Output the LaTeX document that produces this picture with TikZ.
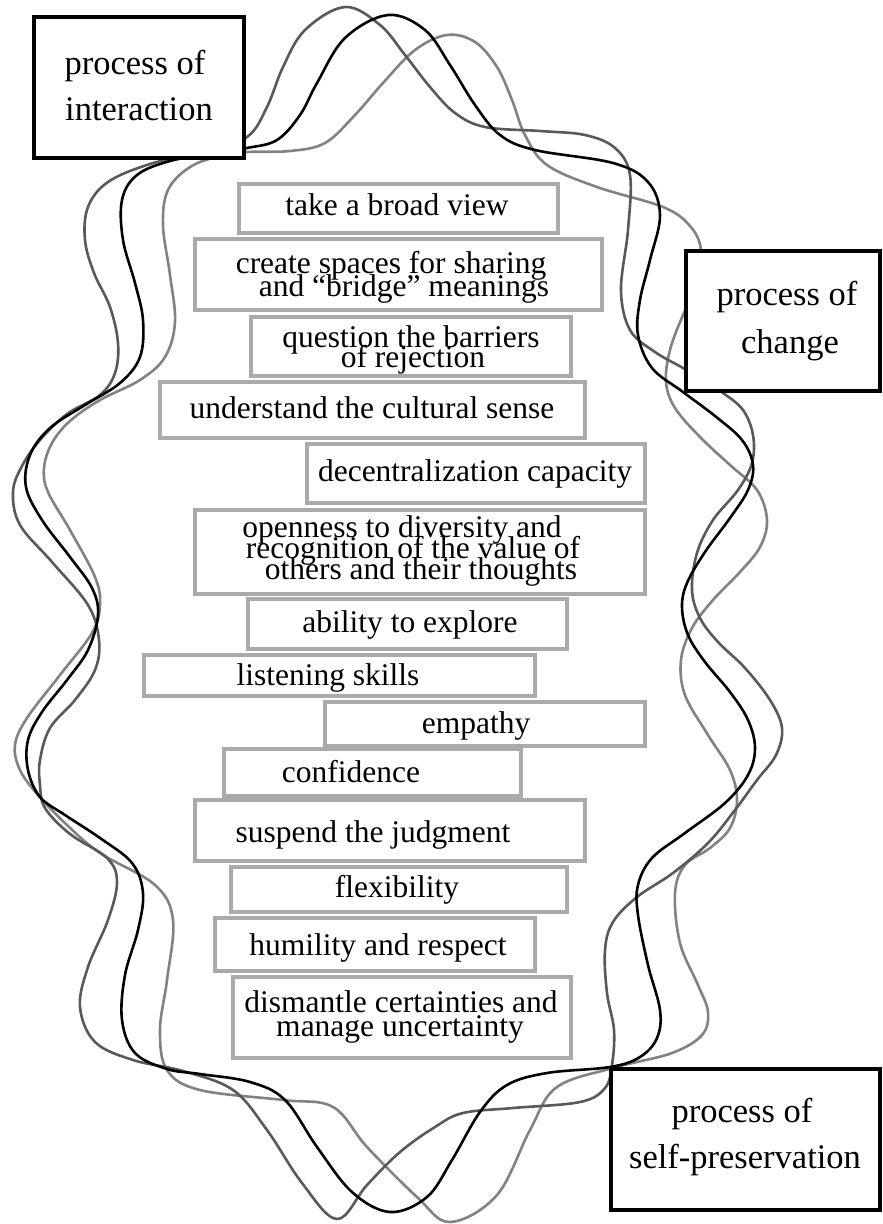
\documentclass[tikz,border=0pt]{standalone}
\usepackage{fontspec}
\setmainfont{Liberation Serif}
\definecolor{boxgray}{HTML}{AAAAAA}
\definecolor{darkcurve}{HTML}{595959}
\definecolor{lightcurve}{HTML}{828282}
\begin{document}
\begin{tikzpicture}[x=1pt,y=-1pt,
  wave/.style={line width=2.6pt},
  gbox/.style={draw=boxgray,line width=4pt,fill=white,inner sep=0pt},
  kbox/.style={draw=black,line width=4.2pt,fill=white,inner sep=0pt},
  gtext/.style={anchor=base,inner sep=0pt,font=\fontsize{31.5}{31.5}\selectfont},
  ktext/.style={anchor=base,inner sep=0pt,font=\fontsize{34.5}{34.5}\selectfont}]
\useasboundingbox (0,0) rectangle (883,1224);

% light grey wave
\draw[wave,lightcurve] plot[smooth cycle,tension=0.6] coordinates {
(247,152) (290,151) (325,143) (355,115) (383,83) (415,50) (447,35) (475,42) (497,67) (512,100) (525,135) (547,165) (597,187) (663,207) (690,226) (701,250) (697,285) (683,315) (670,350) (666,382) (675,408) (700,437) (730,465) (757,490) (767,520) (760,547) (740,572) (713,600) (692,628) (681,660) (685,695) (708,735) (730,770) (737,800) (730,828) (710,848) (685,865) (675,893) (680,943) (698,985) (708,1012) (702,1035) (672,1053) (617,1067) (557,1087) (530,1130) (497,1195) (450,1222) (417,1197) (367,1147) (333,1107) (283,1100) (200,1090) (167,1070) (160,1030) (167,980) (173,920) (155,885) (100,853) (67,825) (38,795) (20,770) (15,745) (27,718) (60,675) (92,633) (100,605) (95,577) (70,530) (48,492) (44,468) (52,443) (70,421) (100,400) (140,380) (165,357) (175,322) (170,275) (163,225) (168,190) (190,167) (220,156)};

% dark grey wave
\draw[wave,darkcurve] plot[smooth cycle,tension=0.6] coordinates {
(247,137) (267,107) (283,67) (305,30) (345,7) (380,25) (405,55) (430,87) (455,113) (485,127) (540,131) (585,135) (615,148) (630,175) (628,230) (621,290) (630,330) (655,352) (683,368) (705,382) (723,393) (743,410) (753,435) (752,463) (738,490) (713,520) (697,553) (692,590) (700,618) (718,642) (745,668) (770,700) (782,728) (776,755) (757,780) (735,810) (708,843) (673,873) (637,897) (613,922) (605,950) (607,993) (614,1030) (612,1065) (605,1088) (580,1102) (513,1108) (463,1113) (435,1127) (400,1152) (367,1185) (337,1219) (302,1183) (267,1130) (233,1090) (183,1071) (133,1060) (95,1042) (80,1007) (88,967) (108,920) (117,882) (107,858) (70,834) (45,808) (40,785) (40,760) (50,728) (75,700) (95,670) (99,640) (88,605) (52,562) (20,525) (13,492) (22,466) (40,440) (67,414) (100,395) (115,373) (118,343) (110,307) (94,273) (85,240) (88,207) (108,182) (150,164) (205,151)};

% black wave
\draw[wave,black] plot[smooth cycle,tension=0.6] coordinates {
(247,148) (277,140) (300,115) (317,83) (345,38) (388,15) (425,30) (450,65) (475,105) (500,135) (535,150) (613,163) (648,182) (660,215) (650,260) (640,300) (638,335) (652,368) (683,392) (715,416) (742,440) (753,465) (748,490) (730,518) (705,552) (687,583) (682,607) (688,635) (705,662) (730,692) (748,720) (755,748) (748,775) (725,803) (685,833) (652,858) (638,885) (638,915) (648,965) (660,1010) (657,1038) (640,1057) (610,1067) (547,1073) (507,1085) (480,1112) (452,1160) (427,1197) (390,1212) (352,1192) (317,1147) (285,1100) (250,1082) (200,1074) (167,1069) (135,1053) (122,1020) (125,975) (138,930) (143,893) (132,863) (100,838) (65,815) (40,797) (28,770) (28,740) (42,712) (67,680) (88,650) (98,615) (92,588) (70,557) (42,520) (26,487) (30,455) (50,428) (85,405) (120,383) (140,357) (143,320) (135,283) (123,240) (122,200) (137,175) (170,161) (215,153)};

% process boxes
\node[kbox,minimum width=210pt,minimum height=141pt] (inter) at (139,87.5) {};
\node[ktext] (inter1) at (135,74) {process of};
\node[ktext] (inter2) at (139,120) {interaction};
\node[kbox,minimum width=194pt,minimum height=140pt] (change) at (783,321) {};
\node[ktext] (change1) at (787,305) {process of};
\node[ktext] (change2) at (790,353) {change};
\node[kbox,minimum width=269pt,minimum height=141pt] (selfp) at (745.5,1139.5) {};
\node[ktext] (selfp1) at (742,1122) {process of};
\node[ktext] (selfp2) at (745,1168) {self-preservation};

% grey boxes
\node[gbox,minimum width=319pt,minimum height=49pt] (b1) at (398.5,208.5) {};
\node[gtext] (t1) at (397,215) {take a broad view};
\node[gbox,minimum width=407pt,minimum height=71pt] (b2) at (398.5,274.5) {};
\node[gtext] (t2a) at (391,273) {create spaces for sharing};
\node[gtext] (t2b) at (404,296) {and “bridge” meanings};
\node[gbox,minimum width=320pt,minimum height=59pt] (b3) at (411,346.5) {};
\node[gtext] (t3a) at (411,347) {question the barriers};
\node[gtext] (t3b) at (413,367) {of rejection};
\node[gbox,minimum width=425pt,minimum height=56pt] (b4) at (372.5,410) {};
\node[gtext] (t4) at (372,418) {understand the cultural sense};
\node[gbox,minimum width=338pt,minimum height=59pt] (b5) at (476,473.5) {};
\node[gtext] (t5) at (475,481) {decentralization capacity};
\node[gbox,minimum width=450pt,minimum height=84pt] (b6) at (420,552) {};
\node[gtext] (t6a) at (402,537) {openness to diversity and};
\node[gtext] (t6b) at (413,558) {recognition of the value of};
\node[gtext] (t6c) at (421,579) {others and their thoughts};
\node[gbox,minimum width=319pt,minimum height=50pt] (b7) at (407.5,624) {};
\node[gtext] (t7) at (410,632) {ability to explore};
\node[gbox,minimum width=391pt,minimum height=41pt] (b8) at (339.5,675.5) {};
\node[gtext] (t8) at (328,685) {listening skills};
\node[gbox,minimum width=320pt,minimum height=44pt] (b9) at (485,724) {};
\node[gtext] (t9) at (476,733) {empathy};
\node[gbox,minimum width=297pt,minimum height=47pt] (b10) at (372.5,772.5) {};
\node[gtext] (t10) at (351,782) {confidence};
\node[gbox,minimum width=390pt,minimum height=61pt] (b11) at (390,830.5) {};
\node[gtext] (t11) at (373,842) {suspend the judgment};
\node[gbox,minimum width=336pt,minimum height=45pt] (b12) at (399,889.5) {};
\node[gtext] (t12) at (397,897) {flexibility};
\node[gbox,minimum width=320pt,minimum height=53pt] (b13) at (375,944.5) {};
\node[gtext] (t13) at (378,955) {humility and respect};
\node[gbox,minimum width=338pt,minimum height=81pt] (b14) at (402,1017.5) {};
\node[gtext] (t14a) at (401,1012) {dismantle certainties and};
\node[gtext] (t14b) at (400,1036) {manage uncertainty};
\end{tikzpicture}
\end{document}
